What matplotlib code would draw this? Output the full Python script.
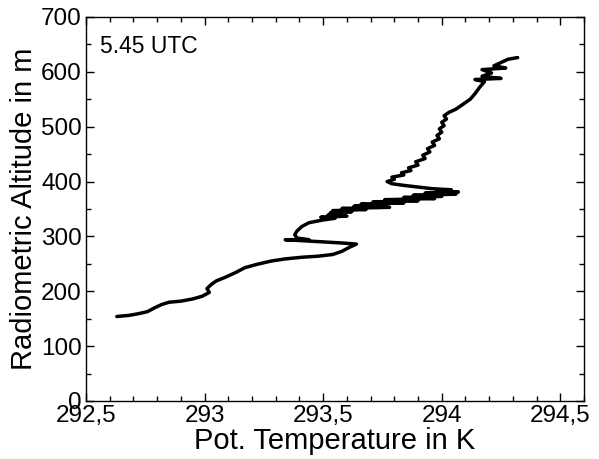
import matplotlib
matplotlib.use("Agg")
import matplotlib.pyplot as plt
from matplotlib.ticker import MultipleLocator

plt.rcParams['font.family'] = ['Liberation Sans', 'DejaVu Sans']

# Potential temperature profile (K) against radiometric altitude (m)
theta_k = [
    292.63, 292.68, 292.72, 292.76, 292.79, 292.82, 292.85, 292.90, 292.95, 292.99,
    293.02, 293.01, 293.03, 293.05, 293.09, 293.13, 293.17, 293.22, 293.28, 293.34,
    293.41, 293.48, 293.54, 293.58, 293.61, 293.64, 293.58, 293.50, 293.42, 293.34,
    293.44, 293.39, 293.38, 293.39, 293.41, 293.44,
    293.50, 293.55, 293.49, 293.60, 293.52, 293.57, 293.53, 293.62, 293.54, 293.68,
    293.58, 293.78, 293.63, 293.70, 293.66, 293.84, 293.71, 293.90, 293.76, 293.97,
    293.84, 294.00, 293.88, 294.06, 293.93, 294.07, 293.98, 294.04, 293.96, 293.90,
    293.84, 293.79, 293.77,
    293.80, 293.79, 293.84, 293.83, 293.87, 293.86, 293.90, 293.89, 293.93, 293.92,
    293.95, 293.94, 293.97, 293.96, 293.99, 293.98, 294.00, 293.99, 294.01, 294.00,
    294.02, 294.01, 294.03, 294.06, 294.09, 294.12, 294.14, 294.16, 294.18,
    294.14, 294.25, 294.17, 294.21, 294.17, 294.27, 294.22, 294.25, 294.28, 294.32,
]
altitude_m = [
    154, 156, 159, 163, 170, 176, 180, 182, 186, 191,
    198, 205, 213, 219, 226, 234, 243, 249, 255, 259,
    262, 264, 267, 273, 280, 286, 288, 290, 292, 294,
    294, 297, 303, 310, 318, 325,
    330, 333, 335, 337, 339, 341, 343, 345, 347, 349,
    351, 353, 355, 357, 359, 361, 363, 365, 367, 369,
    371, 373, 375, 377, 379, 381, 383, 385, 387, 390,
    393, 396, 400,
    404, 408, 412, 416, 420, 425, 430, 436, 442, 448,
    454, 460, 466, 472, 478, 484, 490, 496, 502, 508,
    514, 520, 526, 532, 541, 550, 560, 572, 582,
    586, 588, 592, 598, 604, 607, 611, 617, 623, 626,
]

x_ticks = [292.5, 293.0, 293.5, 294.0, 294.5]
x_tick_labels = ["292,5", "293", "293,5", "294", "294,5"]
y_ticks = [0, 100, 200, 300, 400, 500, 600, 700]
y_tick_labels = ["0", "100", "200", "300", "400", "500", "600", "700"]

fig = plt.figure(figsize=(5.99, 4.59), dpi=100)
ax = fig.add_axes([0.1436, 0.1264, 0.8314, 0.8366])

ax.plot(theta_k, altitude_m, color="black", linewidth=2.5,
        solid_joinstyle="round", solid_capstyle="round")

ax.set_xlim(292.5, 294.6)
ax.set_ylim(0, 700)
ax.set_xticks(x_ticks)
ax.set_xticklabels(x_tick_labels)
ax.set_yticks(y_ticks)
ax.set_yticklabels(y_tick_labels)
ax.xaxis.set_minor_locator(MultipleLocator(0.1))
ax.yaxis.set_minor_locator(MultipleLocator(50))

ax.tick_params(which="both", direction="in", top=True, right=True,
               width=1.0, labelsize=17.5)
ax.tick_params(which="major", length=6, pad=3)
ax.tick_params(which="minor", length=3.5)
for spine in ax.spines.values():
    spine.set_linewidth(1.0)

ax.set_xlabel("Pot. Temperature in K", fontsize=21, labelpad=0)
ax.set_ylabel("Radiometric Altitude in m", fontsize=21, labelpad=2)

ax.text(0.028, 0.905, "5.45 UTC", transform=ax.transAxes,
        fontsize=16.5, ha="left", va="baseline")

fig.savefig("out.png", dpi=100)
